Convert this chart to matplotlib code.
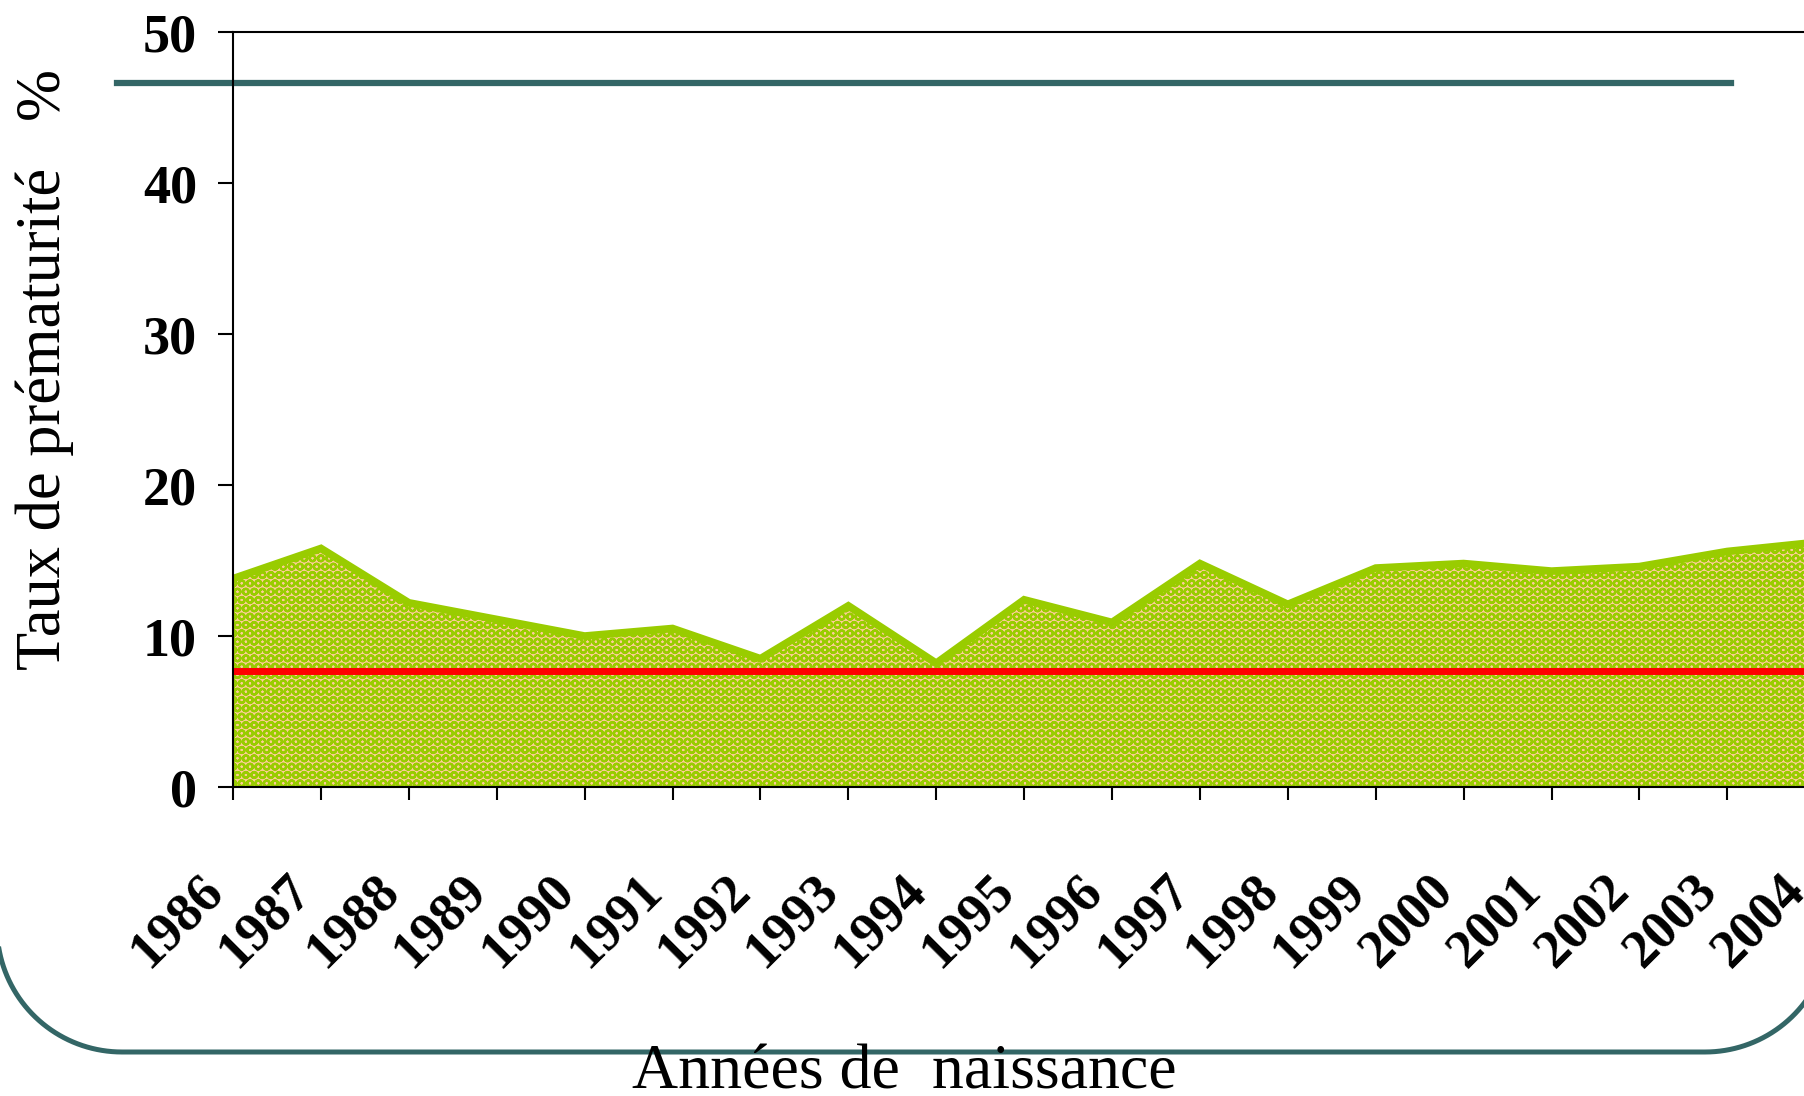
# import libraries
import numpy as np
import matplotlib.pyplot as plt

#  chart data
years = [ "1986", "1987", "1988", "1989", "1990", "1991", "1992", "1993", "1994", "1995",
          "1996", "1997", "1998", "1999", "2000", "2001", "2002", "2003", "2004" ]
rates = [ 13.8, 15.8, 12.2, 11.1, 10.0, 10.5, 8.5, 12.0, 8.2, 12.4,
          10.9, 14.8, 12.1, 14.5, 14.8, 14.3, 14.6, 15.6, 16.2 ]
redLevel = 7.7
tealLevel = 46.6
tealStart = -1.32
tealEnd = 17.04
yTicks = [ 0, 10, 20, 30, 40, 50 ]

#  colours
green = "#99CC00"
peach = "#FFCC99"
red = "#FF0000"
teal = "#336666"

serif = "Liberation Serif"
plt.rcParams[ "hatch.linewidth" ] = 1.7


def roundedFrame( left, right, bottom, top, radius ):
    #  open frame (no top edge), pixel coordinates with y going up
    t = np.linspace( np.pi, 1.5 * np.pi, 40 )
    xs = [ left ] + list( left + radius + radius * np.cos( t ) )
    ys = [ top ] + list( bottom + radius + radius * np.sin( t ) )
    t = np.linspace( 1.5 * np.pi, 2 * np.pi, 40 )
    xs += list( right - radius + radius * np.cos( t ) ) + [ right ]
    ys += list( bottom + radius + radius * np.sin( t ) ) + [ top ]
    return xs, ys


def main( ):
    fig = plt.figure( figsize = ( 18.04, 10.96 ), dpi = 100 )

    #  background layer for the rounded frame
    back = fig.add_axes( [ 0, 0, 1, 1 ], zorder = -1 )
    back.set_xlim( 0, 1804 )
    back.set_ylim( 0, 1096 )
    back.axis( "off" )
    fx, fy = roundedFrame( -3, 1830, 1096 - 1052, 1300, 125 )
    back.plot( fx, fy, color = teal, linewidth = 3.6 )

    #  main chart, its right edge runs past the picture
    ax = fig.add_axes( [ 0.1292, 0.2819, 0.877, 0.6889 ] )
    ax.patch.set_alpha( 0 )
    x = np.arange( len( years ) )

    ax.fill_between( x, 0, rates, facecolor = peach, edgecolor = green,
                     hatch = "OO", linewidth = 2.5, zorder = 2 )
    ax.plot( x, rates, color = green, linewidth = 5.5, solid_joinstyle = "miter", zorder = 3 )

    #  reference lines
    ax.plot( [ 0.03, len( years ) - 1 ], [ redLevel, redLevel ], color = red, linewidth = 5, zorder = 4 )
    ax.plot( [ tealStart, tealEnd ], [ tealLevel, tealLevel ], color = teal, linewidth = 4.5,
             clip_on = False, zorder = 4 )

    ax.set_xlim( 0, len( years ) - 1 )
    ax.set_ylim( 0, 50 )

    ax.set_xticks( x )
    ax.set_xticklabels( years, rotation = 45, ha = "right", va = "top",
                        fontfamily = serif, fontweight = "bold", fontsize = 39 )
    ax.set_yticks( yTicks )
    ax.set_yticklabels( [ str( t ) for t in yTicks ], fontfamily = serif,
                        fontweight = "bold", fontsize = 39 )

    ax.tick_params( axis = "y", length = 11, width = 1.5, pad = 15 )
    ax.tick_params( axis = "x", length = 9.5, width = 1.5, pad = 47 )

    for side in [ "left", "bottom", "top" ]:
        ax.spines[ side ].set_linewidth( 1.5 )
        ax.spines[ side ].set_zorder( 5 )
    ax.spines[ "right" ].set_visible( False )

    #  axis titles
    fig.text( 45 / 1804, 1 - 370 / 1096, "Taux de prématurité   %", rotation = 90,
              ha = "center", va = "center", fontfamily = serif, fontsize = 45 )
    fig.text( 904 / 1804, 0.007, "Années de  naissance", ha = "center", va = "baseline",
              fontfamily = serif, fontsize = 46 )

    fig.savefig( "out.png", dpi = 100 )


main()
